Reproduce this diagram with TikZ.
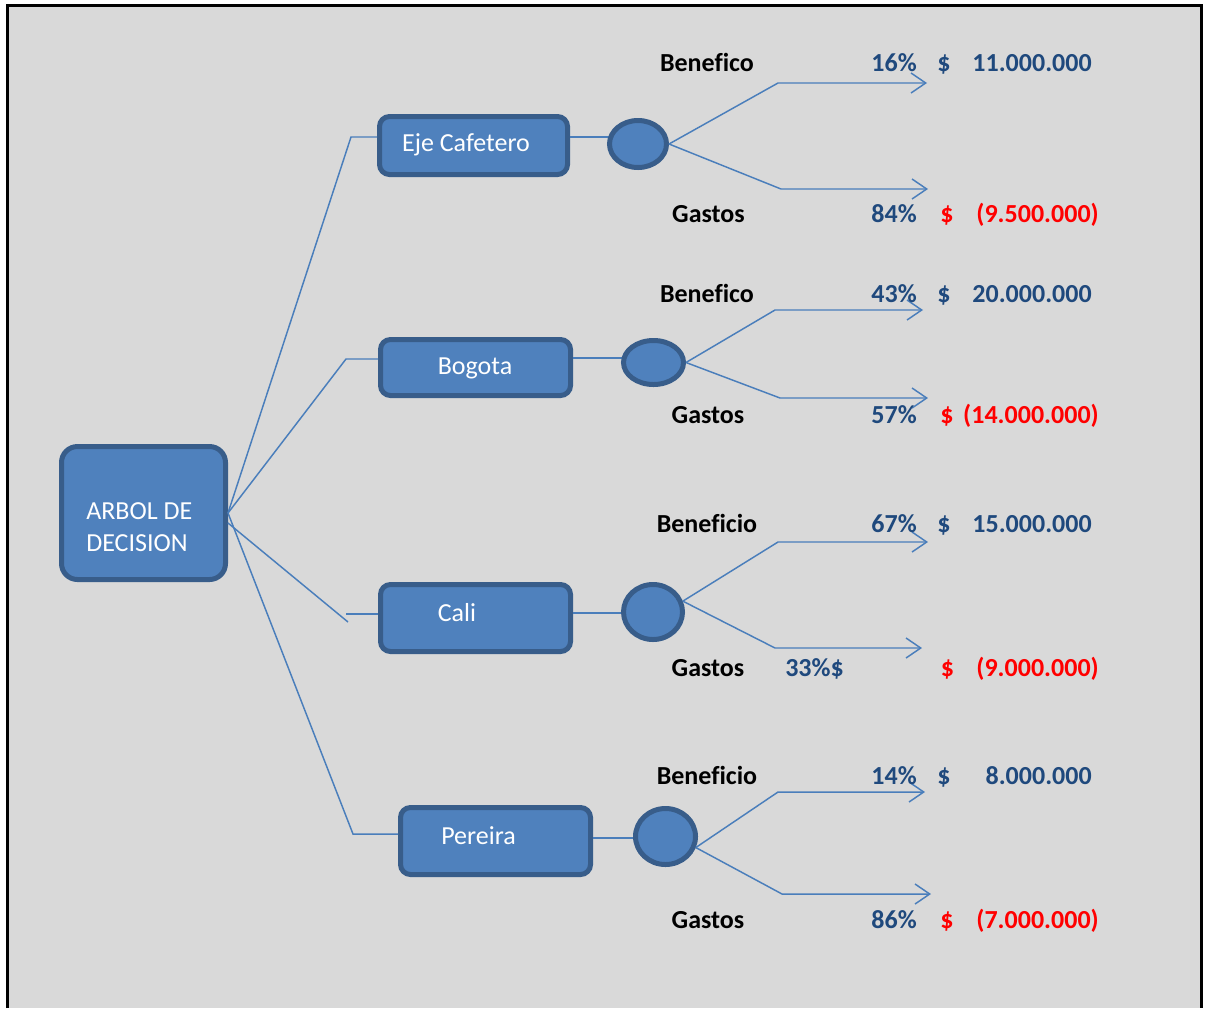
\documentclass[tikz,border=0pt]{standalone}
\usepackage{fontspec}
\setmainfont{Carlito}[Ligatures={NoCommon}]
\usetikzlibrary{shapes.geometric,arrows.meta}
\definecolor{bgray}{HTML}{D9D9D9}
\definecolor{boxfill}{HTML}{4F81BD}
\definecolor{boxline}{HTML}{385D8A}
\definecolor{lineblue}{HTML}{4A7EBB}
\definecolor{txtblue}{HTML}{1F497D}
\definecolor{txtred}{HTML}{FF0000}
\begin{document}
\begin{tikzpicture}[x=0.75pt,y=-0.75pt,
  box/.style={draw=boxline, fill=boxfill, line width=3.75pt, rounded corners=7.5pt, inner sep=0pt},
  oval/.style={ellipse, draw=boxline, fill=boxfill, line width=3.75pt, inner sep=0pt},
  boxtxt/.style={text=white, font=\fontsize{19.5}{24}\selectfont, inner sep=0pt, anchor=base},
  lbl/.style={font=\fontsize{19.5}{24}\selectfont\bfseries, inner sep=0pt, anchor=base},
  pct/.style={lbl, text=txtblue, anchor=base east},
  bluev/.style={lbl, text=txtblue},
  redv/.style={lbl, text=txtred},
  link/.style={draw=lineblue, line width=1.1pt},
  arr/.style={link, -{Straight Barb[length=11pt,width=15pt]}}
]
\useasboundingbox (0,0) rectangle (1205,1008);
\fill[white] (0,0) rectangle (1205,1008);
\fill[bgray] (7,5) rectangle (1201,1008);
\draw[line width=2.25pt] (7,1008) -- (7,5) -- (1201,5) -- (1201,1008);

% root
\node[box, rounded corners=12pt, minimum width=123pt, minimum height=99.75pt] (root) at (143.5,513) {};
\node[boxtxt, anchor=west, align=left] (rt) at (86,527) {ARBOL DE\\DECISION};

% second level boxes
\node[box, minimum width=141pt, minimum height=43.5pt] (b1) at (473.5,145.5) {};
\node[box, minimum width=142.5pt, minimum height=42pt] (b2) at (475.5,367.5) {};
\node[box, minimum width=142.5pt, minimum height=50.25pt] (b3) at (475.5,618) {};
\node[box, minimum width=142.5pt, minimum height=50.25pt] (b4) at (495.5,841) {};
\node[boxtxt] (bt1) at (466,151) {Eje Cafetero};
\node[boxtxt] (bt2) at (475,374) {Bogota};
\node[boxtxt] (bt3) at (457,621) {Cali};
\node[boxtxt] (bt4) at (478.5,844) {Pereira};

% corner coordinates
\coordinate (k1) at (351,137);
\coordinate (k2) at (346,359);
\coordinate (k3) at (348,622);
\coordinate (h3) at (346,614);
\coordinate (k4) at (353,834);

% root connectors
\draw[link] (root.east) -- (k1) -- (b1.west |- k1);
\draw[link] (root.east) -- (k2) -- (b2.west |- k2);
\draw[link] ([yshift=-7.5pt]root.east) -- (k3);
\draw[link] (h3) -- (b3.west |- h3);
\draw[link] (root.east) -- (k4) -- (b4.west |- k4);

% chance nodes
\coordinate (m1) at (0,137);
\coordinate (m2) at (0,358);
\coordinate (m3) at (0,613);
\coordinate (m4) at (0,838);
\draw[link] (b1.east |- m1) -- (620,137);
\draw[link] (b2.east |- m2) -- (630,358);
\draw[link] (b3.east |- m3) -- (630,613);
\draw[link] (b4.east |- m4) -- (640,838);
\node[oval, minimum width=42.75pt, minimum height=35.25pt] (c1) at (638,144) {};
\node[oval, minimum width=45pt, minimum height=33pt] (c2) at (653.5,362.5) {};
\node[oval, minimum width=44.25pt, minimum height=41.25pt] (c3) at (653,612) {};
\node[oval, minimum width=45pt, minimum height=42pt] (c4) at (665.5,836.5) {};

% branch end coordinates
\coordinate (e1u) at (778,83);  \coordinate (a1u) at (927,83);
\coordinate (e1d) at (781,189); \coordinate (a1d) at (928,189);
\coordinate (e2u) at (775,310); \coordinate (a2u) at (923,310);
\coordinate (e2d) at (780,398); \coordinate (a2d) at (928,398);
\coordinate (e3u) at (778,542); \coordinate (a3u) at (928,542);
\coordinate (e3d) at (775,648); \coordinate (a3d) at (922,648);
\coordinate (e4u) at (778,792); \coordinate (a4u) at (925,792);
\coordinate (e4d) at (782,894); \coordinate (a4d) at (931,894);

\draw[arr] (c1.east) -- (e1u) -- (a1u);
\draw[arr] (c1.east) -- (e1d) -- (a1d);
\draw[arr] (c2.east) -- (e2u) -- (a2u);
\draw[arr] (c2.east) -- (e2d) -- (a2d);
\draw[arr] (c3.20) -- (e3u) -- (a3u);
\draw[arr] (c3.20) -- (e3d) -- (a3d);
\draw[arr] (c4.-20) -- (e4u) -- (a4u);
\draw[arr] (c4.-20) -- (e4d) -- (a4d);

% Eje Cafetero
\node[lbl] (l1u) at (707,71) {Benefico};
\node[pct] (p1u) at (917,71) {16\%};
\node[bluev] (d1u) at (944,71) {\$};
\node[bluev, anchor=base east] (v1u) at (1092,71) {11.000.000};
\node[lbl] (l1d) at (708.5,222) {Gastos};
\node[pct] (p1d) at (917,222) {84\%};
\node[redv] (d1d) at (947,222) {\$};
\node[redv, anchor=base east] (v1d) at (1099,222) {(9.500.000)};

% Bogota
\node[lbl] (l2u) at (707,302) {Benefico};
\node[pct] (p2u) at (917,302) {43\%};
\node[bluev] (d2u) at (944,302) {\$};
\node[bluev, anchor=base east] (v2u) at (1092,302) {20.000.000};
\node[lbl] (l2d) at (708,423) {Gastos};
\node[pct] (p2d) at (917,423) {57\%};
\node[redv] (d2d) at (947,423) {\$};
\node[redv, anchor=base east] (v2d) at (1099,423) {(14.000.000)};

% Cali
\node[lbl] (l3u) at (707,532) {Beneficio};
\node[pct] (p3u) at (917,532) {67\%};
\node[bluev] (d3u) at (944,532) {\$};
\node[bluev, anchor=base east] (v3u) at (1092,532) {15.000.000};
\node[lbl] (l3d) at (708,676) {Gastos};
\node[bluev, anchor=base west] (p3d) at (785,676) {33\%\$};
\node[redv] (d3d) at (947.5,676) {\$};
\node[redv, anchor=base east] (v3d) at (1099,676) {(9.000.000)};

% Pereira
\node[lbl] (l4u) at (707,784) {Beneficio};
\node[pct] (p4u) at (917,784) {14\%};
\node[bluev] (d4u) at (944,784) {\$};
\node[bluev, anchor=base east] (v4u) at (1092,784) {8.000.000};
\node[lbl] (l4d) at (708,928) {Gastos};
\node[pct] (p4d) at (917,928) {86\%};
\node[redv] (d4d) at (947,928) {\$};
\node[redv, anchor=base east] (v4d) at (1099,928) {(7.000.000)};
\end{tikzpicture}
\end{document}
